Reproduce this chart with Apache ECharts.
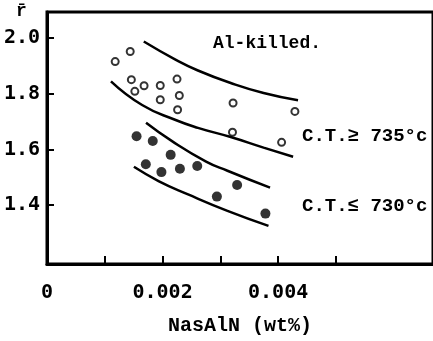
<!DOCTYPE html>
<html>
<head>
<meta charset="utf-8">
<script src="https://cdn.jsdelivr.net/npm/echarts@6/dist/echarts.min.js"></script>
<style>
  html, body { margin: 0; padding: 0; background: #fff; }
  #chart { width: 433px; height: 341px; }
</style>
</head>
<body>
<div id="chart"></div>
<script>
// 图表数据
var xTickValues = [0.001, 0.002, 0.003, 0.004, 0.005];
var xLabelValues = [0, 0.002, 0.004];
var xLabelText = ['0', '0.002', '0.004'];
var yTickValues = [1.4, 1.6, 1.8, 2.0];

// C.T. >= 735°c (空心圆)
var openPts = [
    [0.00118, 1.916], [0.00144, 1.952], [0.00146, 1.851], [0.00152, 1.809],
    [0.00168, 1.829], [0.00196, 1.830], [0.00196, 1.779], [0.00225, 1.853],
    [0.00229, 1.794], [0.00226, 1.743], [0.00322, 1.767], [0.00321, 1.662],
    [0.00429, 1.737], [0.00406, 1.626]
];
// C.T. <= 730°c (实心圆)
var filledPts = [
    [0.00155, 1.648], [0.00183, 1.631], [0.00214, 1.581], [0.00171, 1.547],
    [0.00198, 1.519], [0.00230, 1.531], [0.00260, 1.541], [0.00329, 1.473],
    [0.00294, 1.431], [0.00378, 1.370]
];
// 分布带边界线
var bandA = [[0.001675, 1.988], [0.002215, 1.924], [0.002612, 1.884], [0.003179, 1.839], [0.003748, 1.803], [0.004344, 1.777]];
var bandB = [[0.001107, 1.845], [0.001646, 1.760], [0.002215, 1.707], [0.002612, 1.678], [0.003179, 1.645], [0.003748, 1.607], [0.004259, 1.574]];
var bandC = [[0.001714, 1.696], [0.002157, 1.631], [0.002753, 1.557], [0.003123, 1.524], [0.003860, 1.463]];
var bandD = [[0.001504, 1.538], [0.001930, 1.487], [0.002441, 1.439], [0.003123, 1.380], [0.003833, 1.326]];

var myChart = echarts.init(document.getElementById('chart'));

var monoFont = '"Liberation Mono", "DejaVu Sans Mono", monospace';
var tickFont = '"DejaVu Sans Mono", monospace';

function curve(data) {
    return {
        type: 'line',
        data: data,
        smooth: 0.5,
        showSymbol: false,
        silent: true,
        lineStyle: { color: '#000', width: 2.5 }
    };
}

var option = {
    backgroundColor: '#fff',
    animation: false,
    grid: {
        left: 47, top: 12, right: -6, bottom: 76,
        show: true,
        borderColor: '#000',
        borderWidth: 3
    },
    xAxis: {
        type: 'value',
        min: 0,
        max: 0.00668,
        name: 'NasAlN (wt%)',
        nameLocation: 'middle',
        nameGap: 52,
        nameTextStyle: { fontFamily: monoFont, fontSize: 20, fontWeight: 'bold', color: '#000' },
        axisLine: { show: true, lineStyle: { color: '#000', width: 3 } },
        axisTick: { show: true, inside: true, length: 8, lineStyle: { color: '#000', width: 2 }, customValues: xTickValues },
        axisLabel: {
            customValues: xLabelValues,
            margin: 19,
            fontFamily: tickFont, fontSize: 20, fontWeight: 'bold', color: '#000',
            formatter: function (v) {
                for (var i = 0; i < xLabelValues.length; i++) {
                    if (Math.abs(v - xLabelValues[i]) < 1e-7) return xLabelText[i];
                }
                return '';
            }
        },
        splitLine: { show: false }
    },
    yAxis: {
        type: 'value',
        min: 1.189,
        max: 2.094,
        axisLine: { show: true, lineStyle: { color: '#000', width: 3 } },
        axisTick: { show: true, inside: true, length: 7, lineStyle: { color: '#000', width: 2 }, customValues: yTickValues },
        axisLabel: {
            customValues: yTickValues,
            margin: 7,
            fontFamily: tickFont, fontSize: 20, fontWeight: 'bold', color: '#000',
            formatter: function (v) { return v.toFixed(1); }
        },
        splitLine: { show: false }
    },
    graphic: [
        { type: 'text', left: 16, top: 2, style: { text: 'r̄', font: 'bold 18px ' + monoFont, fill: '#000' } },
        { type: 'text', left: 213, top: 34, style: { text: 'Al-killed.', font: 'bold 18px ' + monoFont, fill: '#000' } },
        { type: 'text', left: 302, top: 127, style: { text: 'C.T.≥ 735°c', font: 'bold 19px ' + monoFont, fill: '#000' } },
        { type: 'text', left: 302, top: 197, style: { text: 'C.T.≤ 730°c', font: 'bold 19px ' + monoFont, fill: '#000' } }
    ],
    series: [
        curve(bandA), curve(bandB), curve(bandC), curve(bandD),
        {
            type: 'scatter',
            data: openPts,
            symbol: 'circle',
            symbolSize: 7,
            itemStyle: { color: '#fff', borderColor: '#000', borderWidth: 2 }
        },
        {
            type: 'scatter',
            data: filledPts,
            symbol: 'circle',
            symbolSize: 10,
            itemStyle: { color: '#000' }
        }
    ]
};

myChart.setOption(option);
</script>
</body>
</html>
